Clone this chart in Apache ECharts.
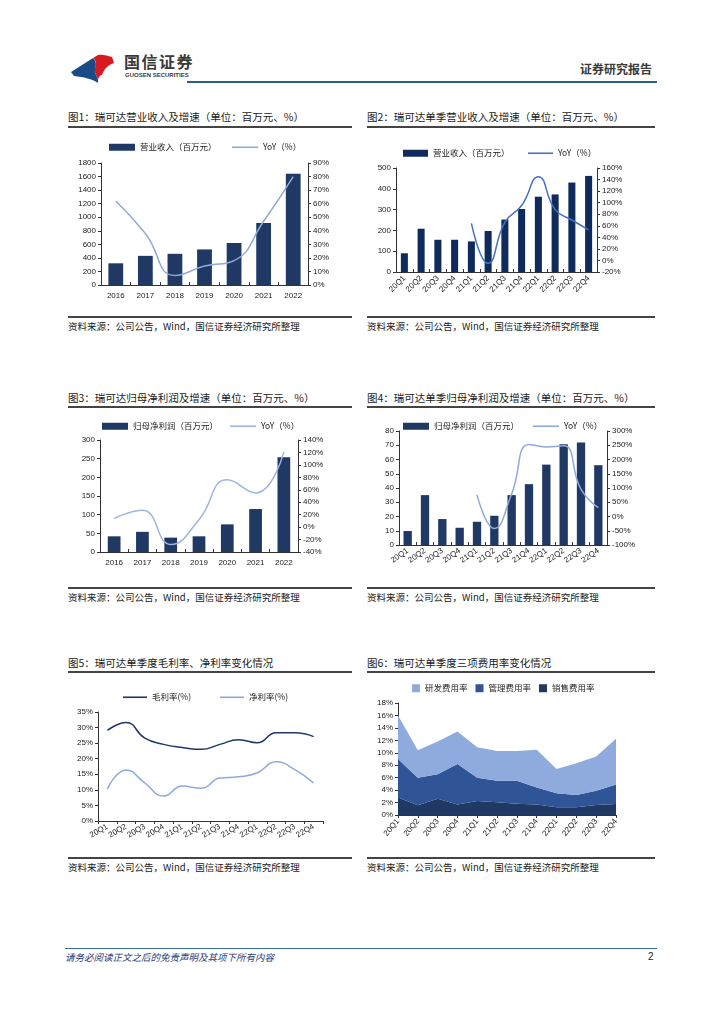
<!DOCTYPE html>
<html><head><meta charset="utf-8">
<script src="https://cdn.jsdelivr.net/npm/echarts@6/dist/echarts.min.js"></script>
<style>
html,body{margin:0;padding:0;background:#fff;}
body{width:724px;height:1024px;position:relative;overflow:hidden;font-family:"Liberation Sans","Noto Sans CJK SC",sans-serif;color:#222;}
.abs{position:absolute;}
.title{position:absolute;font-size:10.5px;line-height:14px;white-space:nowrap;color:#1a1a1a;font-family:"Noto Sans CJK SC",sans-serif;}
.uline{position:absolute;height:1.5px;background:#444;}
.src{position:absolute;font-size:9.5px;line-height:12px;white-space:nowrap;color:#1a1a1a;font-family:"Noto Sans CJK SC",sans-serif;}
.chart{position:absolute;}
</style></head>
<body>
<!-- header -->
<svg class="abs" style="left:60px;top:45px" width="70" height="45" viewBox="0 0 70 45">
  <path d="M11,27 L33,13 C37,17 36,21 35,25 C34,29 39,32 38,38 C32,34 24,32 14,31 Z" fill="#1c4a86"/>
  <path d="M33,13 L38,10 C43,9 47,11 52,12 L54,18 C48,20 44,24 42,30 C40,30 38.5,32 38,35 C37,30 34,28 35,24 C36,20 37,16 33,13 Z" fill="#d71920"/>
</svg>
<div class="abs" style="left:124px;top:51px;font-size:16px;line-height:20px;font-family:'Noto Sans CJK SC';font-weight:bold;color:#3a3a3a;letter-spacing:1.5px;">国信证券</div>
<div class="abs" style="left:125px;top:71px;font-size:6px;line-height:8px;font-weight:bold;color:#3a3a3a;font-family:'Liberation Sans';">GUOSEN SECURITIES</div>
<div class="abs" style="left:580px;top:61px;font-size:12px;line-height:16px;font-family:'Noto Sans CJK SC';font-weight:bold;color:#3a3a3a;">证券研究报告</div>
<div class="abs" style="left:187px;top:81px;width:470px;height:2px;background:#2b5b93;"></div>

<!-- row 1 -->
<div class="title" style="left:68px;top:110px;">图1：瑞可达营业收入及增速（单位：百万元、%）</div>
<div class="uline" style="left:68px;top:126px;width:284px;"></div>
<div class="title" style="left:367px;top:110px;">图2：瑞可达单季营业收入及增速（单位：百万元、%）</div>
<div class="uline" style="left:367px;top:126px;width:288px;"></div>
<div id="c1" class="chart" style="left:60px;top:130px;width:300px;height:185px;"></div>
<div id="c2" class="chart" style="left:360px;top:130px;width:300px;height:185px;"></div>
<div class="uline" style="left:68px;top:316px;width:284px;"></div>
<div class="uline" style="left:367px;top:316px;width:288px;"></div>
<div class="src" style="left:68px;top:320px;">资料来源：公司公告，Wind，国信证券经济研究所整理</div>
<div class="src" style="left:367px;top:320px;">资料来源：公司公告，Wind，国信证券经济研究所整理</div>

<!-- row 2 -->
<div class="title" style="left:68px;top:391px;">图3：瑞可达归母净利润及增速（单位：百万元、%）</div>
<div class="uline" style="left:68px;top:406px;width:284px;"></div>
<div class="title" style="left:367px;top:391px;">图4：瑞可达单季归母净利润及增速（单位：百万元、%）</div>
<div class="uline" style="left:367px;top:406px;width:288px;"></div>
<div id="c3" class="chart" style="left:60px;top:410px;width:300px;height:175px;"></div>
<div id="c4" class="chart" style="left:360px;top:410px;width:300px;height:175px;"></div>
<div class="uline" style="left:68px;top:587px;width:284px;"></div>
<div class="uline" style="left:367px;top:587px;width:288px;"></div>
<div class="src" style="left:68px;top:591px;">资料来源：公司公告，Wind，国信证券经济研究所整理</div>
<div class="src" style="left:367px;top:591px;">资料来源：公司公告，Wind，国信证券经济研究所整理</div>

<!-- row 3 -->
<div class="title" style="left:68px;top:656px;">图5：瑞可达单季度毛利率、净利率变化情况</div>
<div class="uline" style="left:68px;top:671px;width:284px;"></div>
<div class="title" style="left:367px;top:656px;">图6：瑞可达单季度三项费用率变化情况</div>
<div class="uline" style="left:367px;top:671px;width:288px;"></div>
<div id="c5" class="chart" style="left:60px;top:675px;width:300px;height:180px;"></div>
<div id="c6" class="chart" style="left:360px;top:675px;width:300px;height:180px;"></div>
<div class="uline" style="left:68px;top:857px;width:284px;"></div>
<div class="uline" style="left:367px;top:857px;width:288px;"></div>
<div class="src" style="left:68px;top:861px;">资料来源：公司公告，Wind，国信证券经济研究所整理</div>
<div class="src" style="left:367px;top:861px;">资料来源：公司公告，Wind，国信证券经济研究所整理</div>

<!-- footer -->
<div class="abs" style="left:65px;top:948px;width:592px;height:1px;background:#3b6ea5;"></div>
<div class="abs" style="left:65px;top:951px;font-size:9.5px;line-height:12px;font-style:italic;color:#1f3d7a;font-family:'Noto Sans CJK SC';">请务必阅读正文之后的免责声明及其项下所有内容</div>
<div class="abs" style="left:648px;top:951px;font-size:10px;line-height:12px;color:#222;">2</div>

<script>
// ---------- data ----------
const years = ['2016','2017','2018','2019','2020','2021','2022'];
const quarters = ['20Q1','20Q2','20Q3','20Q4','21Q1','21Q2','21Q3','21Q4','22Q1','22Q2','22Q3','22Q4'];

const revenueAnnual = [320, 430, 460, 525, 620, 915, 1640];
const revenueAnnualYoY = [62, 38, 7, 14, 18, 47, 80];

const revenueQuarter = [90, 208, 155, 155, 147, 197, 252, 303, 362, 373, 430, 462];
const revenueQuarterYoY = [null, null, null, null, 64, -5, 66, 95, 145, 88, 70, 53];

const profitAnnual = [42, 54, 38.5, 42, 74, 115, 254];
const profitAnnualYoY = [14, 27, -28, 12, 76, 55, 121];

const profitQuarter = [9.8, 35, 18.2, 12.1, 16.3, 20.5, 35, 42.7, 56.4, 70.7, 72, 56];
const profitQuarterYoY = [null, null, null, null, 76, -42, 80, 253, 244, 248, 95, 31];

const grossMargin = [29.1, 31.6, 26.6, 24.6, 23.6, 23.0, 24.6, 26.1, 25.1, 28.3, 28.3, 27.1];
const netMargin = [10.3, 16.4, 12.2, 8.0, 11.2, 10.5, 13.8, 14.2, 15.5, 19.0, 16.5, 12.2];

const rdRate = [7.0, 4.4, 5.25, 5.2, 4.9, 4.8, 4.8, 6.1, 3.9, 5.1, 5.5, 7.35];
const adminRate = [6.2, 4.45, 3.95, 6.5, 3.75, 3.45, 3.7, 2.7, 2.25, 1.95, 2.3, 3.15];
const salesRate = [2.8, 1.55, 2.6, 1.7, 2.25, 2.05, 1.8, 1.7, 1.25, 1.25, 1.6, 1.75];

// ---------- styles ----------
const FONT = '"Liberation Sans","Noto Sans CJK SC",sans-serif';
const CJK = '"Noto Sans CJK SC",sans-serif';
const axisLine = {show:true, lineStyle:{color:'#333', width:1}};
const lbl = {fontSize:8, color:'#222', fontFamily:FONT};
const legTxt = {fontSize:8.5, color:'#222', fontFamily:CJK};
const plain = v => String(v);
const pct = v => v + '%';

function comboOption(o){
  return {
    animation:false,
    textStyle:{fontFamily:FONT},
    legend:[
      {data:[{name:o.barName, icon:'rect'}], left:o.leg1, top:o.legTop, itemWidth:o.legW, itemHeight:7, textStyle:legTxt, itemGap:0, padding:0},
      {data:[{name:o.lineName, icon:'rect', itemStyle:{color:o.lineColor}}], left:o.leg2, top:o.legTop, itemWidth:o.legW, itemHeight:1.6, textStyle:legTxt, itemGap:0, padding:0}
    ],
    grid:{left:o.grid[0], right:o.grid[1], top:o.grid[2], bottom:o.grid[3], containLabel:false},
    xAxis:{type:'category', data:o.cats, axisLine:axisLine,
      axisTick:{show:true, inside:true, length:3, lineStyle:{color:'#333'}},
      axisLabel:Object.assign({margin:o.rot?5:7, rotate:o.rot||0, interval:0}, lbl)},
    yAxis:[
      {type:'value', min:o.l[0], max:o.l[1], interval:o.l[2], axisLine:axisLine,
        axisTick:{show:true, length:3, lineStyle:{color:'#333'}}, splitLine:{show:false},
        axisLabel:Object.assign({margin:5, formatter:plain}, lbl)},
      {type:'value', min:o.r[0], max:o.r[1], interval:o.r[2], axisLine:axisLine,
        axisTick:{show:true, length:3, lineStyle:{color:'#333'}}, splitLine:{show:false},
        axisLabel:Object.assign({margin:5, formatter:pct}, lbl)}
    ],
    series:[
      {name:o.barName, type:'bar', data:o.bars, barWidth:o.barW, itemStyle:{color:o.barColor}, yAxisIndex:0},
      {name:o.lineName, type:'line', data:o.line, yAxisIndex:1, smooth:0.5, symbol:'none', connectNulls:false,
        lineStyle:{color:o.lineColor, width:1.5}, itemStyle:{color:o.lineColor}}
    ]
  };
}

echarts.init(document.getElementById('c1')).setOption(comboOption({
  cats:years, bars:revenueAnnual, line:revenueAnnualYoY,
  barName:'营业收入（百万元）', lineName:'YoY（%）', leg1:49, leg2:172, legTop:13, legW:26,
  grid:[41,52,33,30], l:[0,1800,200], r:[0,90,10], barW:'50%',
  barColor:'#1f3864', lineColor:'#8eaadb'
}));

echarts.init(document.getElementById('c2')).setOption(comboOption({
  cats:quarters, bars:revenueQuarter, line:revenueQuarterYoY,
  barName:'营业收入（百万元）', lineName:'YoY（%）', leg1:43, leg2:168, legTop:19, legW:25,
  grid:[36,63,38,43], l:[0,500,100], r:[-20,160,20], barW:'42%', rot:45,
  barColor:'#0f2b5c', lineColor:'#4472c4'
}));

echarts.init(document.getElementById('c3')).setOption(comboOption({
  cats:years, bars:profitAnnual, line:profitAnnualYoY,
  barName:'归母净利润（百万元）', lineName:'YoY（%）', leg1:42, leg2:170, legTop:12, legW:26,
  grid:[40,62,30,33], l:[0,300,50], r:[-40,140,20], barW:'45%',
  barColor:'#1f3864', lineColor:'#9db5e0'
}));

echarts.init(document.getElementById('c4')).setOption(comboOption({
  cats:quarters, bars:profitQuarter, line:profitQuarterYoY,
  barName:'归母净利润（百万元）', lineName:'YoY（%）', leg1:43, leg2:173, legTop:12, legW:26,
  grid:[39,53,21,40], l:[0,80,10], r:[-100,300,50], barW:'48%', rot:35,
  barColor:'#1f3864', lineColor:'#8eaadb'
}));

// chart 5
echarts.init(document.getElementById('c5')).setOption({
  animation:false,
  textStyle:{fontFamily:FONT},
  legend:[
    {data:[{name:'毛利率(%)', icon:'rect'}], left:63, top:18, itemWidth:24, itemHeight:1.6, textStyle:legTxt, padding:0},
    {data:[{name:'净利率(%)', icon:'rect'}], left:160, top:18, itemWidth:24, itemHeight:1.6, textStyle:legTxt, padding:0}
  ],
  grid:{left:38, right:37, top:37, bottom:34},
  xAxis:{type:'category', data:quarters, boundaryGap:true, axisLine:axisLine,
    axisTick:{show:true, length:3, lineStyle:{color:'#333'}},
    axisLabel:Object.assign({rotate:30, interval:0, margin:5}, lbl)},
  yAxis:{type:'value', min:0, max:35, interval:5, axisLine:axisLine,
    axisTick:{show:true, length:3, lineStyle:{color:'#333'}}, splitLine:{show:false},
    axisLabel:Object.assign({formatter:pct, margin:5}, lbl)},
  series:[
    {name:'毛利率(%)', type:'line', data:grossMargin, smooth:0.5, symbol:'none', lineStyle:{color:'#1f3864', width:1.5}, itemStyle:{color:'#1f3864'}},
    {name:'净利率(%)', type:'line', data:netMargin, smooth:0.5, symbol:'none', lineStyle:{color:'#8eaadb', width:1.5}, itemStyle:{color:'#8eaadb'}}
  ]
});

// chart 6
echarts.init(document.getElementById('c6')).setOption({
  animation:false,
  textStyle:{fontFamily:FONT},
  legend:{data:['研发费用率','管理费用率','销售费用率'], left:52, top:9, itemWidth:8, itemHeight:8, itemGap:8, icon:'rect', textStyle:legTxt, padding:0},
  grid:{left:38, right:44, top:28, bottom:40},
  xAxis:{type:'category', data:quarters, boundaryGap:false, axisLine:axisLine,
    axisTick:{show:true, length:3, lineStyle:{color:'#333'}},
    axisLabel:Object.assign({rotate:50, interval:0, margin:5}, lbl)},
  yAxis:{type:'value', min:0, max:18, interval:2, axisLine:axisLine,
    axisTick:{show:true, length:3, lineStyle:{color:'#333'}}, splitLine:{show:false},
    axisLabel:Object.assign({formatter:pct, margin:5}, lbl)},
  series:[
    {name:'销售费用率', type:'line', stack:'t', data:salesRate, symbol:'none', lineStyle:{width:0}, areaStyle:{color:'#1f3864', opacity:1}, itemStyle:{color:'#1f3864'}},
    {name:'管理费用率', type:'line', stack:'t', data:adminRate, symbol:'none', lineStyle:{width:0}, areaStyle:{color:'#2f5597', opacity:1}, itemStyle:{color:'#2f5597'}},
    {name:'研发费用率', type:'line', stack:'t', data:rdRate, symbol:'none', lineStyle:{width:0}, areaStyle:{color:'#8faadc', opacity:1}, itemStyle:{color:'#8faadc'}}
  ]
});
</script>
</body></html>
